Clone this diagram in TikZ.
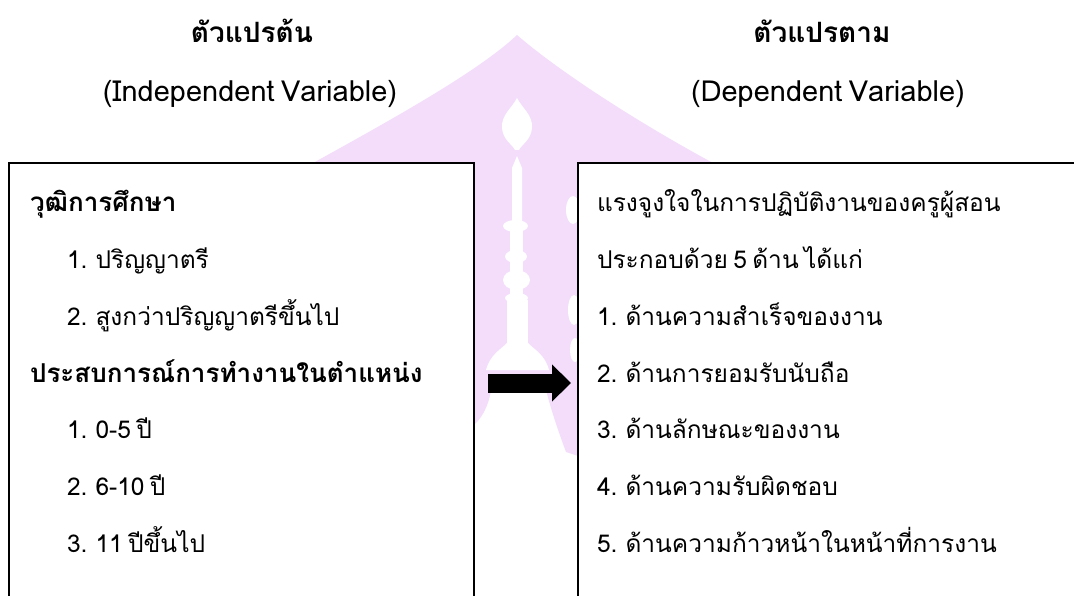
\documentclass[tikz,border=0pt]{standalone}
\usepackage{fontspec}
\setmainfont[Script=Thai, WordSpace=0.65]{Loma}
\usetikzlibrary{arrows.meta}
\definecolor{wmpurple}{RGB}{243,221,251}

\begin{document}
\begin{tikzpicture}[x=1pt, y=-1pt, every node/.style={inner sep=0pt, outer sep=0pt, font=\fontsize{24.5}{28}\selectfont},
    head/.style={anchor=base, font=\fontsize{28}{32}\selectfont\bfseries},
    sub/.style={anchor=base, font=\fontsize{29}{32}\selectfont},
    item/.style={anchor=base west},
    bolditem/.style={anchor=base west, font=\fontsize{26}{30}\selectfont\bfseries},
    box/.style={draw=black, line width=1.6pt, fill=white, anchor=north west, minimum height=470pt},
    fatarrow/.style={line width=19pt, -{Triangle[length=19pt, width=36pt]}}]
    \clip (0,0) rectangle (1074,596);
    \fill[white] (0,0) rectangle (1074,596);

    % roof and pillar behind the boxes
    \fill[wmpurple] (300,175) -- (313,163) .. controls (400,115) and (480,70) .. (517,35)
        .. controls (555,68) and (630,118) .. (713,163) -- (720,175) -- (590,175) -- (590,460)
        -- (566,452) .. controls (556,425) and (548,400) .. (545,385) -- (492,385)
        .. controls (490,400) and (485,415) .. (474,425) -- (470,425) -- (470,175) -- cycle;
    % spire
    \fill[white] (517,98) .. controls (522,108) and (533,115) .. (532,128) .. controls (531,140) and (522,144) .. (519,150)
        -- (515,150) .. controls (512,144) and (503,140) .. (502,128) .. controls (501,115) and (512,108) .. cycle;
    \fill[white] (517,156) -- (522,168) -- (522,222) -- (512,222) -- (512,168) -- cycle;
    \fill[white] (515.5,226) ellipse [x radius=12.5, y radius=6];
    \fill[white] (510,222) rectangle (523,305);
    \fill[white] (516,256.5) ellipse [x radius=11, y radius=6.5];
    \fill[white] (516.5,280) ellipse [x radius=13.5, y radius=10];
    \fill[white] (516.5,298) ellipse [x radius=11.5, y radius=5];
    \fill[white] (507,300) rectangle (528,345);
    \fill[white] (507,343) .. controls (500,350) and (490,355) .. (486,370) -- (549,370)
        .. controls (545,355) and (535,350) .. (528,343) -- cycle;
    \fill[white] (573,210) ellipse [x radius=7, y radius=14];
    \fill[white] (574,310) ellipse [x radius=6, y radius=15];
    \fill[white] (575,350) ellipse [x radius=5, y radius=12];

    \node[head] (ivhead) at (252,43) {ตัวแปรต้น};
    \node[sub] (ivsub) at (250,102) {(Independent Variable)};
    \node[head] (dvhead) at (822,43) {ตัวแปรตาม};
    \node[sub] (dvsub) at (828,102) {(Dependent Variable)};

    \node[box, minimum width=465pt] (ivbox) at (9,163) {};
    \node[box, minimum width=520pt] (dvbox) at (578,163) {};

    \coordinate (arrstart) at (488,383);
    \coordinate (arrend) at (571,383);
    \draw[fatarrow] (arrstart) -- (arrend);

    \node[bolditem] (edu) at (30,212) {วุฒิการศึกษา};
    \node[item] (edua) at (67,268.5) {1. ปริญญาตรี};
    \node[item] (edub) at (67,325) {2. สูงกว่าปริญญาตรีขึ้นไป};
    \node[bolditem] (exp) at (30,382) {ประสบการณ์การทำงานในตำแหน่ง};
    \node[item] (expa) at (67,438) {1. 0-5 ปี};
    \node[item] (expb) at (67,495) {2. 6-10 ปี};
    \node[item] (expc) at (67,552) {3. 11 ปีขึ้นไป};

    \node[item] (mot) at (597,212) {แรงจูงใจในการปฏิบัติงานของครูผู้สอน};
    \node[item] (motsub) at (597,268.5) {ประกอบด้วย 5 ด้าน ได้แก่};
    \node[item] (mota) at (597,325) {1. ด้านความสำเร็จของงาน};
    \node[item] (motb) at (597,382) {2. ด้านการยอมรับนับถือ};
    \node[item] (motc) at (597,438) {3. ด้านลักษณะของงาน};
    \node[item] (motd) at (597,495) {4. ด้านความรับผิดชอบ};
    \node[item] (mote) at (597,552) {5. ด้านความก้าวหน้าในหน้าที่การงาน};
\end{tikzpicture}
\end{document}
